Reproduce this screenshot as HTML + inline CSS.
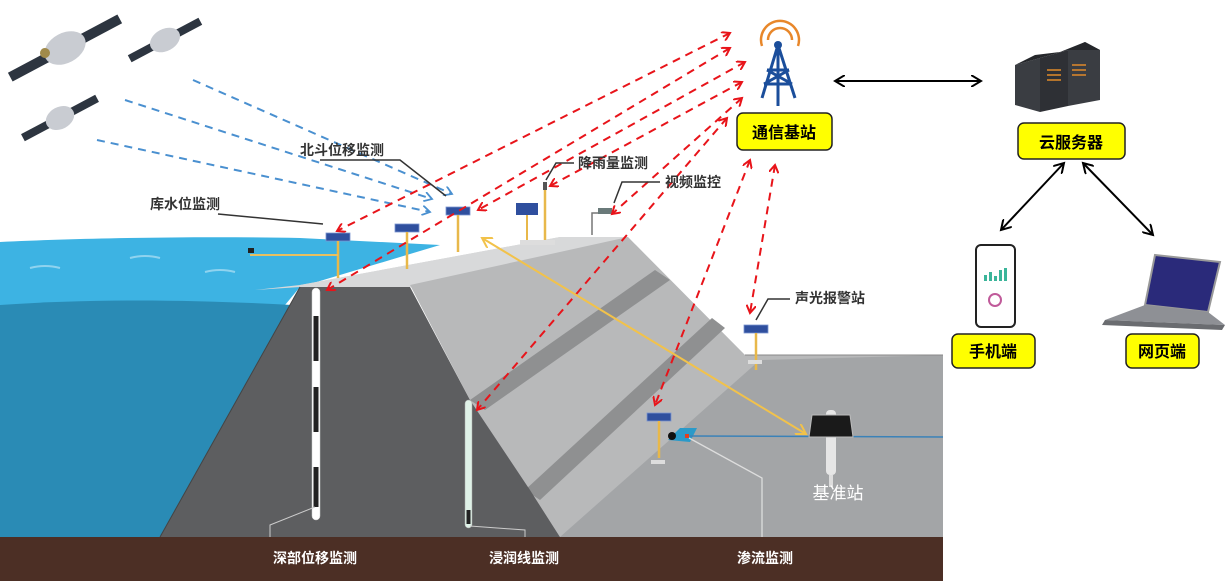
<!DOCTYPE html>
<html><head><meta charset="utf-8"><style>
html,body{margin:0;padding:0;background:#fff;}
svg text{font-family:"Liberation Sans","Noto Sans CJK SC",sans-serif;}
</style></head><body>
<svg width="1225" height="581" viewBox="0 0 1225 581" xmlns="http://www.w3.org/2000/svg">
<defs>
<marker id="ra" markerWidth="10" markerHeight="10" refX="8" refY="5" orient="auto-start-reverse" markerUnits="userSpaceOnUse"><path d="M0,0 L8,5 L0,10" fill="none" stroke="#e8141a" stroke-width="2"/></marker>
<marker id="ba" markerWidth="10" markerHeight="10" refX="8" refY="5" orient="auto" markerUnits="userSpaceOnUse"><path d="M0,0 L8,5 L0,10" fill="none" stroke="#4a90d0" stroke-width="1.8"/></marker>
<marker id="ka" markerWidth="12" markerHeight="12" refX="10" refY="6" orient="auto-start-reverse" markerUnits="userSpaceOnUse"><path d="M0,0 L10,6 L0,12" fill="none" stroke="#000" stroke-width="2"/></marker>
<marker id="ya" markerWidth="12" markerHeight="12" refX="10" refY="6" orient="auto-start-reverse" markerUnits="userSpaceOnUse"><path d="M0,0 L10,6 L0,12" fill="none" stroke="#f2c24a" stroke-width="2"/></marker>
<g id="sp"><rect x="-12" y="-5" width="24" height="8" fill="#2f4f9e" stroke="#7b95d0" stroke-width="0.8"/><line x1="0" y1="3" x2="0" y2="40" stroke="#e8b84a" stroke-width="2.5"/></g>
</defs>

<!-- water -->
<path d="M0,242 C80,238 200,236 300,238 L440,245 L300,287 L285,305 L0,305 Z" fill="#3db3e3"/>
<path d="M0,305 C100,298 200,300 292,305 L160,537 L0,537 Z" fill="#2a8bb5"/>
<path d="M30,268 q15,-4 30,0 M130,258 q15,-4 30,0 M205,272 q15,-4 30,0" stroke="#8fd3ef" stroke-width="2" fill="none"/>

<!-- dam -->
<path d="M300,285 L410,285 L628,237 L560,237 Z" fill="#cfd0d1"/>
<path d="M255,290 L300,285 L560,237 L628,237 L628,240 L410,287 L300,287 Z" fill="#d8d9da"/>
<path d="M410,285 L628,237 L745,355 L943,355 L943,537 L560,537 L530,490 L470,400 Z" fill="#b8b9ba"/>
<path d="M470,400 L655,270 L670,280 L485,410 Z" fill="#8f9091"/>
<path d="M525,490 L712,318 L725,328 L540,500 Z" fill="#8f9091"/>
<path d="M560,537 L760,360 L943,355 L943,537 Z" fill="#a3a5a7"/>
<path d="M745,355 L943,355" stroke="#888" stroke-width="1"/>
<path d="M300,287 L410,287 L470,400 L530,490 L560,537 L160,537 Z" fill="#5d5e60"/>
<path d="M300,287 L160,537" stroke="#444" stroke-width="1"/>

<!-- ground -->
<rect x="0" y="537" width="943" height="44" fill="#4c2f25"/>

<!-- deep displacement pipe -->
<rect x="312" y="288" width="8" height="232" rx="4" fill="#fff" stroke="#ccc" stroke-width="0.5"/>
<rect x="313.5" y="316" width="5" height="45" fill="#222"/>
<rect x="313.5" y="387" width="5" height="45" fill="#222"/>
<rect x="313.5" y="467" width="5" height="40" fill="#222"/>
<path d="M315,507 L270,525 L270,537" stroke="#ccc" fill="none"/>
<rect x="465" y="400" width="7" height="128" rx="3.5" fill="#dff2e8" stroke="#aaa" stroke-width="0.5"/>
<rect x="466.5" y="510" width="4" height="14" fill="#222"/>
<path d="M470,526 L525,530 L525,537" stroke="#ccc" fill="none"/>

<!-- instruments -->
<use href="#sp" x="338" y="238"/>
<line x1="250" y1="255" x2="338" y2="255" stroke="#e8c060" stroke-width="2"/>
<rect x="248" y="248" width="6" height="5" fill="#222"/>
<use href="#sp" x="407" y="229"/>
<use href="#sp" x="458" y="212"/>
<rect x="516" y="203" width="22" height="12" fill="#2f4f9e"/><line x1="527" y1="215" x2="527" y2="245" stroke="#e8b84a" stroke-width="2"/>
<line x1="545" y1="190" x2="545" y2="240" stroke="#e8b84a" stroke-width="2.5"/><rect x="543" y="182" width="4" height="8" fill="#555"/>
<rect x="520" y="240" width="35" height="5" fill="#ddd"/>
<path d="M592,235 L592,213 L610,213" stroke="#777" stroke-width="1.5" fill="none"/><rect x="598" y="208" width="14" height="6" fill="#6a7a7a"/>
<use href="#sp" x="756" y="330"/><rect x="748" y="360" width="14" height="4" fill="#ddd"/>
<use href="#sp" x="659" y="418"/><rect x="651" y="460" width="14" height="4" fill="#ddd"/>
<path d="M668,440 L680,428 L697,428 L690,442 Z" fill="#2a9ac9"/><circle cx="672" cy="436" r="4" fill="#111"/><rect x="685" y="434" width="4" height="4" fill="#e04020"/>
<line x1="690" y1="436" x2="943" y2="437" stroke="#3b82b8" stroke-width="1.5"/>
<path d="M689,438 L762,478 L762,537" stroke="#ddd" stroke-width="1.3" fill="none"/>
<!-- reference station -->
<rect x="826" y="410" width="10" height="65" rx="4" fill="#e6e6e6"/>
<rect x="829" y="475" width="4" height="12" fill="#ddd"/>
<path d="M812,415 L850,415 L853,437 L809,437 Z" fill="#1a1a1a" stroke="#bbb"/>
<text x="838" y="499" font-size="17" fill="#fff" text-anchor="middle">基准站</text>

<!-- satellites -->
<g transform="translate(65,48) rotate(-28)"><rect x="-62" y="-5" width="124" height="10" fill="#2d3540"/><ellipse cx="0" cy="0" rx="22" ry="15" fill="#c9ccd2"/><circle cx="-20" cy="-5" r="5" fill="#a08a4a"/></g>
<g transform="translate(165,40) rotate(-28)"><rect x="-40" y="-4" width="80" height="8" fill="#2d3540"/><ellipse cx="0" cy="0" rx="16" ry="11" fill="#c9ccd2"/></g>
<g transform="translate(60,118) rotate(-28)"><rect x="-42" y="-4" width="84" height="8" fill="#2d3540"/><ellipse cx="0" cy="0" rx="15" ry="11" fill="#c9ccd2"/></g>
<g stroke="#4a90d0" stroke-width="2" stroke-dasharray="8,6" fill="none">
<line x1="193" y1="80" x2="452" y2="194" marker-end="url(#ba)"/>
<line x1="125" y1="100" x2="432" y2="199" marker-end="url(#ba)"/>
<line x1="97" y1="140" x2="430" y2="212" marker-end="url(#ba)"/>
</g>

<!-- red dashed links -->
<g stroke="#e8141a" stroke-width="2" stroke-dasharray="8,6" fill="none" marker-start="url(#ra)" marker-end="url(#ra)">
<line x1="730" y1="33" x2="337" y2="231"/>
<line x1="730" y1="48" x2="327" y2="290"/>
<line x1="745" y1="62" x2="478" y2="210"/>
<line x1="742" y1="82" x2="550" y2="186"/>
<line x1="742" y1="98" x2="612" y2="214"/>
<line x1="727" y1="118" x2="477" y2="410"/>
<line x1="750" y1="160" x2="655" y2="405"/>
<line x1="775" y1="165" x2="750" y2="313"/>
</g>
<line x1="482" y1="238" x2="806" y2="434" stroke="#f2c24a" stroke-width="2" marker-start="url(#ya)" marker-end="url(#ya)"/>

<!-- labels with leaders -->
<g font-size="14" font-weight="bold" fill="#333">
<text x="300" y="155">北斗位移监测</text>
<text x="578" y="168">降雨量监测</text>
<text x="665" y="187">视频监控</text>
<text x="150" y="209">库水位监测</text>
<text x="795" y="303">声光报警站</text>
</g>
<g stroke="#333" stroke-width="1.5" fill="none">
<path d="M320,160 L400,160 L446,196"/>
<path d="M574,163 L556,163 L546,180"/>
<path d="M660,182 L622,182 L614,203"/>
<path d="M218,214 L323,224"/>
<path d="M790,299 L768,299 L756,320"/>
</g>
<g font-size="14" font-weight="bold" fill="#fff" text-anchor="middle">
<text x="315" y="563">深部位移监测</text>
<text x="524" y="563">浸润线监测</text>
<text x="765" y="563">渗流监测</text>
</g>

<!-- tower -->
<g fill="none" stroke="#e8872a" stroke-width="2.5"><path d="M768,40 a12,12 0 1 1 24,0"/><path d="M762,46 a19,19 0 1 1 36,0"/></g>
<circle cx="778" cy="45" r="4" fill="#1b4e9b"/>
<g stroke="#1b4e9b" stroke-width="3" fill="none"><path d="M778,45 L762,98 M778,45 L795,98 M778,45 L778,106 M767,70 L789,70 M764,84 L792,84 M767,70 L792,84 M789,70 L764,84"/></g>
<rect x="737" y="113" width="95" height="37" rx="6" fill="#ffff00" stroke="#222" stroke-width="1.5"/>
<text x="784" y="138" font-size="16" font-weight="bold" text-anchor="middle">通信基站</text>

<line x1="835" y1="81" x2="981" y2="81" stroke="#000" stroke-width="2" marker-start="url(#ka)" marker-end="url(#ka)"/>

<!-- servers -->
<path d="M1015,65 L1040,58 L1040,112 L1015,105 Z" fill="#3a3d42"/>
<path d="M1040,58 L1068,50 L1068,106 L1040,112 Z" fill="#2e3035"/>
<path d="M1068,50 L1085,42 L1100,50 L1100,100 L1068,106 Z" fill="#3a3d42"/>
<path d="M1015,65 L1035,55 L1060,52 L1085,42 L1100,50 L1068,50 L1040,58 Z" fill="#25272b"/>
<g stroke="#e08a2a" stroke-width="1.5"><path d="M1047,70 h14 M1047,75 h14 M1047,80 h14 M1072,65 h14 M1072,70 h14 M1072,75 h14"/></g>
<rect x="1018" y="123" width="107" height="36" rx="6" fill="#ffff00" stroke="#222" stroke-width="1.5"/>
<text x="1071" y="148" font-size="16" font-weight="bold" text-anchor="middle">云服务器</text>
<line x1="1064" y1="163" x2="1001" y2="230" stroke="#000" stroke-width="2" marker-start="url(#ka)" marker-end="url(#ka)"/>
<line x1="1083" y1="163" x2="1153" y2="235" stroke="#000" stroke-width="2" marker-start="url(#ka)" marker-end="url(#ka)"/>

<!-- phone -->
<rect x="976" y="245" width="39" height="82" rx="5" fill="#fff" stroke="#222" stroke-width="2"/>
<g fill="#3bb59a"><rect x="984" y="275" width="3" height="6"/><rect x="989" y="272" width="3" height="9"/><rect x="994" y="276" width="3" height="5"/><rect x="999" y="270" width="3" height="11"/><rect x="1004" y="268" width="3" height="13"/></g>
<circle cx="995" cy="300" r="6" fill="none" stroke="#c05a9a" stroke-width="2"/>
<rect x="952" y="334" width="83" height="34" rx="6" fill="#ffff00" stroke="#222" stroke-width="1.5"/>
<text x="993" y="357" font-size="16" font-weight="bold" text-anchor="middle">手机端</text>

<!-- laptop -->
<path d="M1155,255 L1220,262 L1208,312 L1145,305 Z" fill="#2a2a7a" stroke="#999" stroke-width="2"/>
<path d="M1145,305 L1208,312 L1225,325 L1105,320 Z" fill="#8e9095"/>
<path d="M1105,320 L1225,325 L1222,330 L1102,325 Z" fill="#6a6c70"/>
<rect x="1126" y="334" width="73" height="34" rx="6" fill="#ffff00" stroke="#222" stroke-width="1.5"/>
<text x="1162" y="357" font-size="16" font-weight="bold" text-anchor="middle">网页端</text>
</svg>
</body></html>
